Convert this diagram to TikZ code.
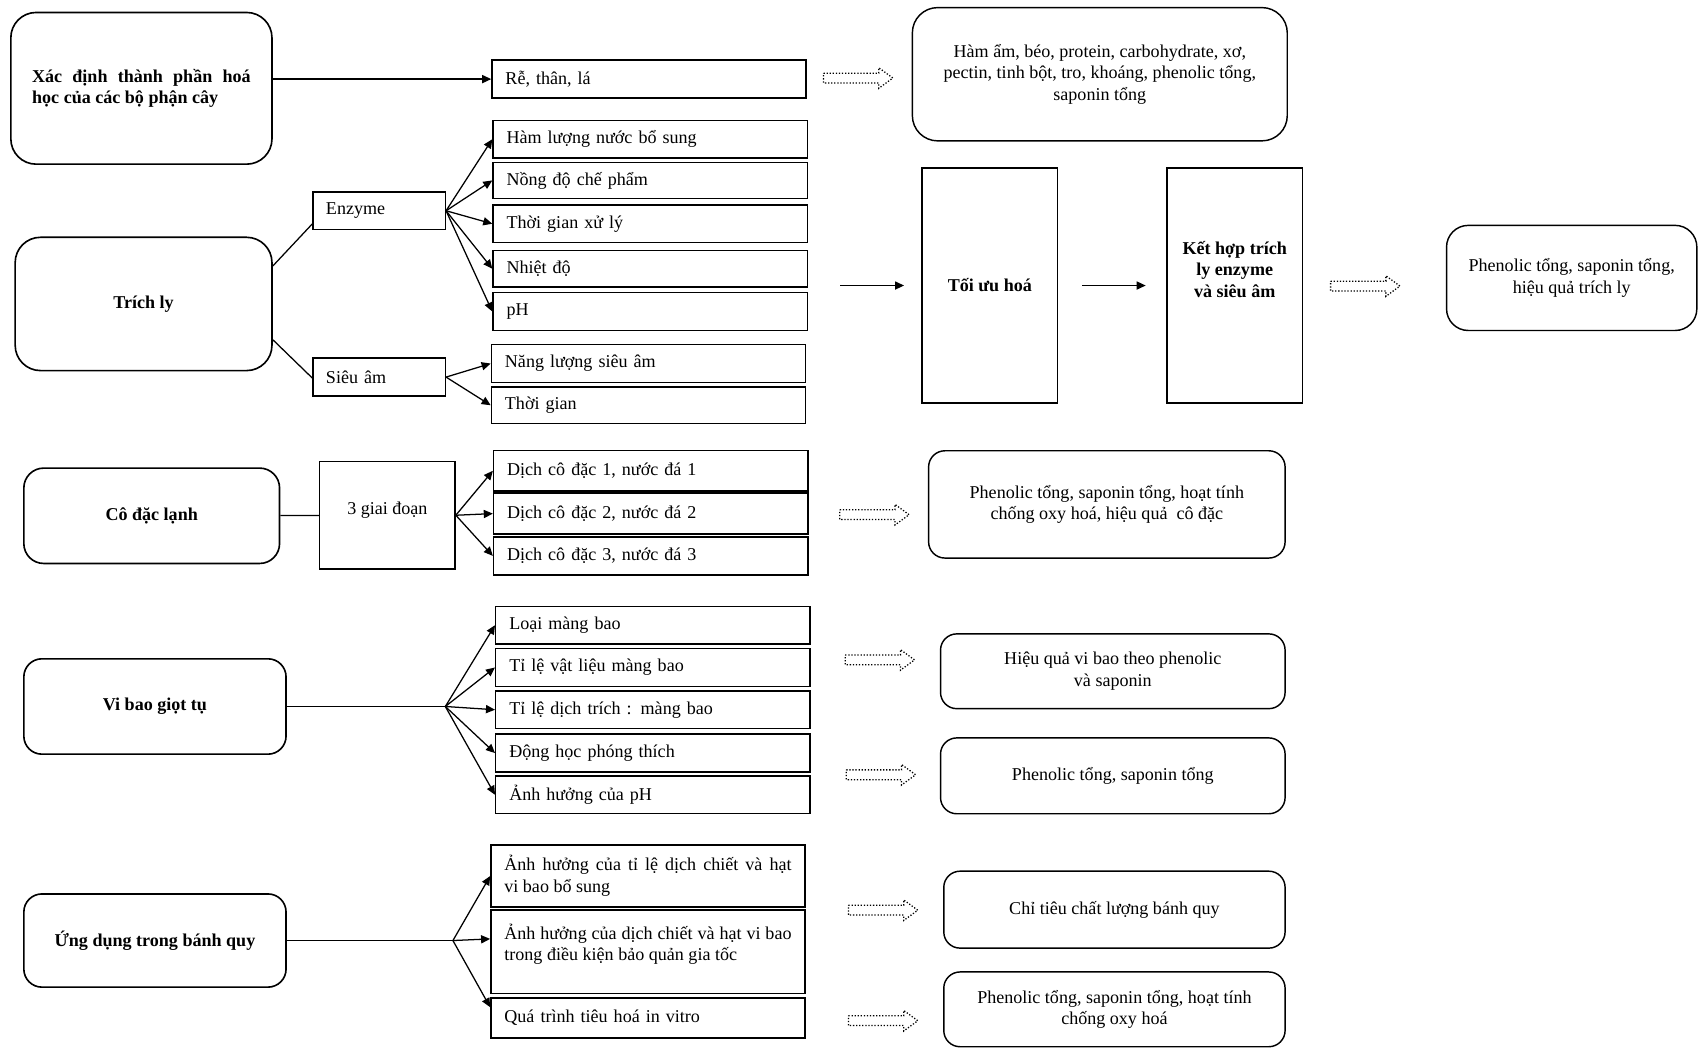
\documentclass[tikz,border=0pt]{standalone}
\usepackage{fontspec}
\setmainfont{Liberation Serif}
\usetikzlibrary{positioning,calc,arrows.meta}

\tikzset{
  mainbox/.style={draw, rounded corners=10pt, line width=0.9pt, align=center, font=\bfseries},
  itembox/.style={draw, line width=0.8pt, minimum width=174pt, minimum height=21pt,
    text width=159pt, inner xsep=7.5pt, inner ysep=0pt, align=left},
  midbox/.style={draw, line width=0.8pt, minimum width=73.2pt, minimum height=21pt,
    text width=59pt, inner xsep=7pt, inner ysep=0pt, align=left},
  tallbox/.style={draw, line width=0.8pt, minimum width=75pt, minimum height=130.2pt,
    align=center, font=\bfseries},
  resbox/.style={draw, rounded corners=9pt, line width=0.8pt, align=center},
  arr/.style={-{Triangle[length=5pt,width=4.5pt]}, line width=0.7pt},
  link/.style={line width=0.7pt},
  dotarrow/.pic={
    \draw[densely dotted, line width=0.7pt] (-32,-4.5) -- (19,-4.5) -- (19,-9.5) -- (32,0)
      -- (19,9.5) -- (19,4.5) -- (-32,4.5) -- cycle;}
}

\begin{document}
\begin{tikzpicture}[x=0.6pt, y=-0.6pt]
  \useasboundingbox (0,0) rectangle (1568,968);

  % thanh phan hoa hoc
  \node[mainbox, rounded corners=14pt, minimum width=144.6pt, minimum height=84pt,
    text width=121pt, align=justify] (xd) at (130.5,81.5)
    {Xác định thành phần hoá\linebreak học của các bộ phận cây};
  \node[itembox] (re) at (599,73) {Rễ, thân, lá};
  \node[resbox, rounded corners=14pt, minimum width=207.6pt, minimum height=73.8pt]
    (tp) at (1015,68.5)
    {Hàm ẩm, béo, protein, carbohydrate, xơ,\\ pectin, tinh bột, tro, khoáng, phenolic tổng,\\ saponin tổng};
  \draw[arr] (xd.east |- re) -- (re.west);
  \pic at (792,72) {dotarrow};

  % trich ly
  \node[mainbox, rounded corners=14pt, minimum width=142.2pt, minimum height=73.8pt]
    (tl) at (132.5,280.5) {Trích ly};
  \node[midbox] (enz) at (350,194.5) {Enzyme};
  \node[midbox] (sa) at (350,348) {Siêu âm};
  \node[itembox] (hl) at (600,128.5) {Hàm lượng nước bổ sung};
  \node[itembox, minimum height=19.8pt] (nd) at (600,166.5) {Nồng độ chế phẩm};
  \node[itembox] (tgxl) at (600,206.5) {Thời gian xử lý};
  \node[itembox, minimum height=20.4pt] (nhd) at (600,248) {Nhiệt độ};
  \node[itembox] (ph) at (600,287.5) {pH};
  \node[itembox] (nlsa) at (598.5,335.5) {Năng lượng siêu âm};
  \node[itembox, minimum height=20.4pt] (tgsa) at (598.5,374) {Thời gian};
  \node[tallbox] (tu) at (913.5,263.5) {Tối ưu hoá};
  \node[tallbox, text depth=18pt] (kh) at (1139.5,263.5) {Kết hợp trích\\ ly enzyme\\ và siêu âm};
  \node[resbox, rounded corners=12pt, minimum width=138.6pt, minimum height=58.2pt]
    (kqtl) at (1450.5,256.5) {Phenolic tổng, saponin tổng,\\ hiệu quả trích ly};
  \draw[link] ($(tl.east)+(0,-35)$) -- ($(enz.west)+(0,12)$);
  \draw[link] ($(tl.east)+(0,33)$) -- ($(sa.west)+(0,1)$);
  \foreach \n in {hl,nd,tgxl,nhd,ph}
    \draw[arr] (enz.east) -- (\n.west);
  \foreach \n in {nlsa,tgsa}
    \draw[arr] (sa.east) -- (\n.west);
  \draw[arr, shorten <=18pt, shorten >=9.6pt] (nhd.east |- tu.west) -- (tu.west);
  \draw[arr, shorten <=13.2pt, shorten >=11.4pt] (tu.east) -- (kh.west);
  \pic at (1260,264) {dotarrow};

  % co dac lanh
  \node[mainbox, rounded corners=11pt, minimum width=141.6pt, minimum height=52.8pt]
    (cdl) at (140,476) {Cô đặc lạnh};
  \node[draw, line width=0.8pt, minimum width=75pt, minimum height=59.4pt, text depth=8pt]
    (gd) at (357.5,475.5) {3 giai đoạn};
  \node[itembox, minimum height=22.2pt] (dc1) at (600.5,434.5) {Dịch cô đặc 1, nước đá 1};
  \node[itembox, minimum height=22.8pt] (dc2) at (600.5,474) {Dịch cô đặc 2, nước đá 2};
  \node[itembox] (dc3) at (600.5,513) {Dịch cô đặc 3, nước đá 3};
  \node[resbox, minimum width=197.4pt, minimum height=59.4pt] (kqcd) at (1021.5,465.5)
    {Phenolic tổng, saponin tổng, hoạt tính\\ chống oxy hoá, hiệu quả \ cô đặc};
  \draw[link] (cdl) -- (gd);
  \foreach \n in {dc1,dc2,dc3}
    \draw[arr] (gd.east) -- (\n.west);
  \pic at (807,475) {dotarrow};

  % vi bao
  \node[mainbox, minimum width=145.2pt, minimum height=52.8pt] (vb) at (143,652) {Vi bao giọt tụ};
  \coordinate (vbj) at (411,652);
  \node[itembox] (lmb) at (602.5,577) {Loại màng bao};
  \node[itembox] (tlvl) at (602.5,616) {Tỉ lệ vật liệu màng bao};
  \node[itembox] (tldt) at (602.5,655) {Tỉ lệ dịch trích : màng bao};
  \node[itembox] (dhpt) at (602.5,695) {Động học phóng thích};
  \node[itembox] (ahph) at (602.5,733.5) {Ảnh hưởng của pH};
  \node[resbox, minimum width=190.8pt, minimum height=41.4pt] (hqvb) at (1027,619.5)
    {Hiệu quả vi bao theo phenolic\\ và saponin};
  \node[resbox, minimum width=190.8pt, minimum height=42pt] (ptst) at (1027,716)
    {Phenolic tổng, saponin tổng};
  \draw[link] (vb.east) -- (vbj);
  \foreach \n in {lmb,tlvl,tldt,dhpt,ahph}
    \draw[arr] (vbj) -- (\n.west);
  \pic at (812,609) {dotarrow};
  \pic at (813,715) {dotarrow};

  % banh quy
  \node[mainbox, minimum width=145.2pt, minimum height=51.6pt] (ud) at (143,868)
    {Ứng dụng trong bánh quy};
  \coordinate (udj) at (418,868);
  \node[itembox, minimum height=34.2pt, align=justify] (ah1) at (598,808.5)
    {Ảnh hưởng của tỉ lệ dịch chiết và hạt\linebreak vi bao bổ sung};
  \node[itembox, minimum height=46.2pt, align=justify, text depth=22.5pt] (ah2) at (598,878.5)
    {Ảnh hưởng của dịch chiết và hạt vi bao\linebreak trong điều kiện bảo quản gia tốc};
  \node[itembox, minimum height=22.2pt] (qt) at (598,939.5) {Quá trình tiêu hoá in vitro};
  \node[resbox, minimum width=189pt, minimum height=42.6pt] (cl) at (1028.5,839.5)
    {Chỉ tiêu chất lượng bánh quy};
  \node[resbox, minimum width=189pt, minimum height=41.4pt] (pt) at (1028.5,931.5)
    {Phenolic tổng, saponin tổng, hoạt tính\\ chống oxy hoá};
  \draw[link] (ud.east) -- (udj);
  \draw[arr] (udj) -- (ah1.west);
  \draw[arr] (udj) -- ($(ah2.west)+(0,-12)$);
  \draw[arr] (udj) -- ($(qt.west)+(0,-10)$);
  \pic at (815,840) {dotarrow};
  \pic at (815,942) {dotarrow};
\end{tikzpicture}
\end{document}
